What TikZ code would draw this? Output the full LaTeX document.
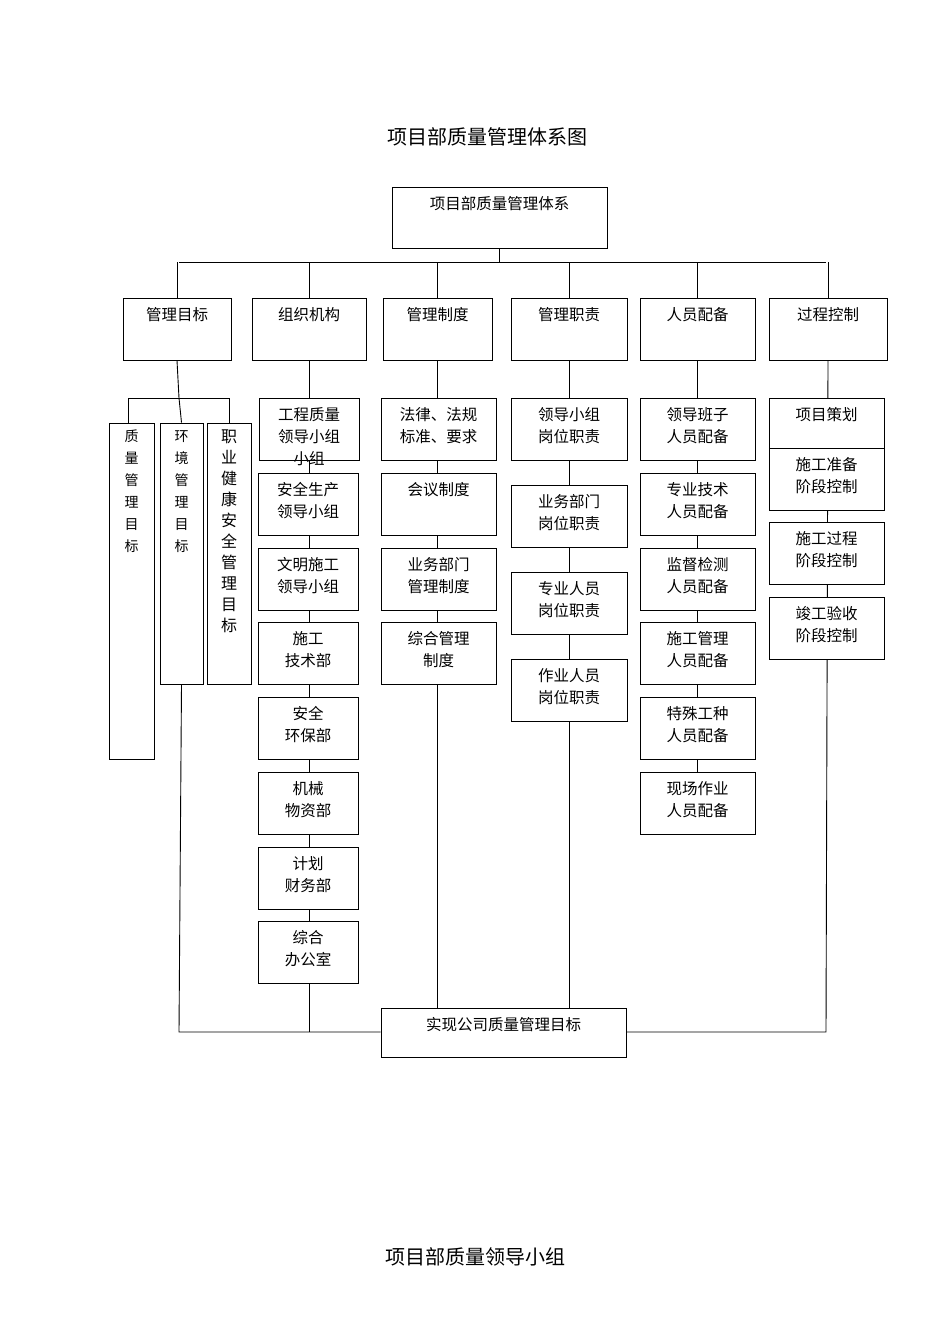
\documentclass[tikz,border=0pt]{standalone}
\usepackage{fontspec}
\setmainfont{Noto Sans CJK SC}
\usetikzlibrary{backgrounds}
\tikzset{
  box/.style={draw,fill=white,line width=0.9pt,inner sep=0pt,rectangle},
  txt/.style={font=\fontsize{15.5}{22}\selectfont,align=center,inner sep=0pt},
  vtxt/.style={font=\fontsize{14}{22}\selectfont,align=center,inner sep=0pt},
  vtxtb/.style={font=\fontsize{16}{21}\selectfont,align=center,inner sep=0pt},
  conn/.style={line width=0.9pt}
}
\newcommand\bx[6]{%
  \node[box,minimum width={#4-#2},minimum height={#5-#3}] (#1) at ({(#2+#4)/2},{(#3+#5)/2}) {};
  \node[txt,anchor=north] (#1t) at ([yshift=-10pt]#1.north) {#6};}
\begin{document}
\begin{tikzpicture}[x=1pt,y=-1pt]
\useasboundingbox (0,0) rectangle (950,1344);
\node[font=\fontsize{20}{24}\selectfont] (title) at (487,137) {项目部质量管理体系图};
\node[font=\fontsize{20}{24}\selectfont] (title2) at (475,1257) {项目部质量领导小组};

\bx{top}{392}{187}{607}{248}{项目部质量管理体系}
\bx{c1}{123}{298}{231}{360}{管理目标}
\bx{c2}{252}{298}{366}{360}{组织机构}
\bx{c3}{383}{298}{492}{360}{管理制度}
\bx{c4}{511}{298}{627}{360}{管理职责}
\bx{c5}{640}{298}{755}{360}{人员配备}
\bx{c6}{769}{298}{887}{360}{过程控制}

% left column
\node[box,minimum width=45,minimum height=336] (g1) at (131.5,591) {};
\node[vtxt,anchor=north] (g1t) at (131.5,430) {质\\量\\管\\理\\目\\标};
\node[box,minimum width=43,minimum height=261] (g2) at (181.5,553.5) {};
\node[vtxt,anchor=north] (g2t) at (181.5,430) {环\\境\\管\\理\\目\\标};
\node[box,minimum width=44,minimum height=261] (g3) at (229,553.5) {};
\node[vtxtb,anchor=north] (g3t) at (229,430) {职\\业\\健\\康\\安\\全\\管\\理\\目\\标};

% column 2
\bx{o1}{259}{398}{359}{460}{工程质量\\领导小组\\小组}
\bx{o2}{258}{473}{358}{535}{安全生产\\领导小组}
\bx{o3}{258}{548}{358}{610}{文明施工\\领导小组}
\bx{o4}{258}{622}{358}{684}{施工\\技术部}
\bx{o5}{258}{697}{358}{759}{安全\\环保部}
\bx{o6}{258}{772}{358}{834}{机械\\物资部}
\bx{o7}{258}{847}{358}{909}{计划\\财务部}
\bx{o8}{258}{921}{358}{983}{综合\\办公室}
% column 3
\bx{z1}{381}{398}{496}{460}{法律、法规\\标准、要求}
\bx{z2}{381}{473}{496}{535}{会议制度}
\bx{z3}{381}{548}{496}{610}{业务部门\\管理制度}
\bx{z4}{381}{622}{496}{684}{综合管理\\制度}
% column 4
\bx{r1}{511}{398}{627}{460}{领导小组\\岗位职责}
\bx{r2}{511}{485}{627}{547}{业务部门\\岗位职责}
\bx{r3}{511}{572}{627}{634}{专业人员\\岗位职责}
\bx{r4}{511}{659}{627}{721}{作业人员\\岗位职责}
% column 5
\bx{p1}{640}{398}{755}{460}{领导班子\\人员配备}
\bx{p2}{640}{473}{755}{535}{专业技术\\人员配备}
\bx{p3}{640}{548}{755}{610}{监督检测\\人员配备}
\bx{p4}{640}{622}{755}{684}{施工管理\\人员配备}
\bx{p5}{640}{697}{755}{759}{特殊工种\\人员配备}
\bx{p6}{640}{772}{755}{834}{现场作业\\人员配备}
% column 6
\bx{k1}{769}{398}{884}{448}{项目策划}
\bx{k2}{769}{448}{884}{510}{施工准备\\阶段控制}
\bx{k3}{769}{522}{884}{584}{施工过程\\阶段控制}
\bx{k4}{769}{597}{884}{659}{竣工验收\\阶段控制}
% bottom
\node[box,minimum width=245,minimum height=49] (bot) at (503.5,1032.5) {};
\node[txt,anchor=north] (bott) at ([yshift=-10pt]bot.north) {实现公司质量管理目标};

\coordinate (busL) at (179,262);
\coordinate (busR) at (826,262);
\coordinate (split) at (179,398);
\coordinate (sL) at (128,398);
\coordinate (sR) at (229,398);
\coordinate (j1) at (179,1032);
\coordinate (j2) at (309,1032);
\coordinate (j6) at (826,1032);

\begin{scope}[on background layer]
\draw[conn] (top.south) -- (top.south|-busL);
\draw[conn] (busL) -- (busR);
\foreach \c in {c1,c2,c3,c4,c5,c6} \draw[conn] (\c.north|-busL) -- (\c.north);
\draw[conn] (c1.south) -- (split);
\draw[conn] (sL) -- (sR);
\draw[conn] (sL) -- (sL|-g1.north);
\draw[conn] (split) -- (g2.north);
\draw[conn] (sR) -- (g3.north);
\draw[conn] (g2.south) -- (j1) -- (bot.west|-j1);
\draw[conn] (c2.south) -- (j2);
\draw[conn] (c3.south) -- (c3.south|-bot.north);
\draw[conn] (c4.south) -- (c4.south|-bot.north);
\draw[conn] (c5.south) -- (p6.north);
\draw[conn] (c6.south) -- (j6) -- (bot.east|-j6);
\end{scope}
\end{tikzpicture}
\end{document}
